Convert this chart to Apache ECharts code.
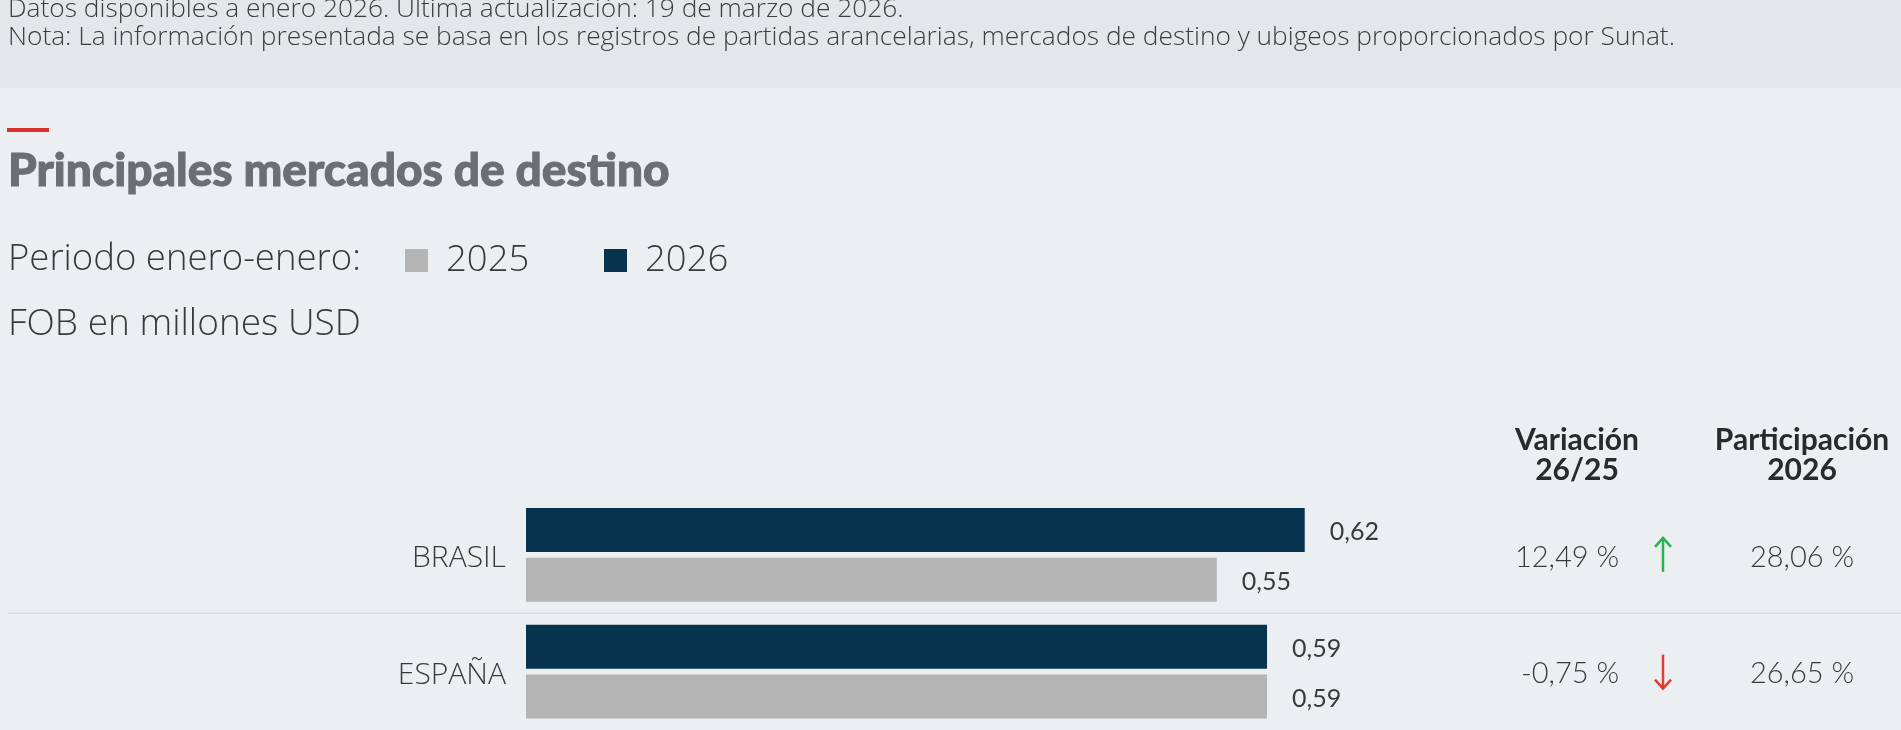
<!DOCTYPE html>
<html>
<head>
<meta charset="utf-8">
<script src="https://cdn.jsdelivr.net/npm/echarts@6/dist/echarts.min.js"></script>
<style>
html,body{margin:0;padding:0;background:#eceff2;}
#chart{width:1901px;height:730px;}
</style>
</head>
<body>
<div id="chart"></div>
<script>
// ---- data ----
const categories = ['BRASIL', 'ESPAÑA'];
const years = ['2025', '2026'];
const values2025 = [0.55, 0.59];
const values2026 = [0.62, 0.59];
const variation = [12.49, -0.75];     // Variación 26/25 (%)
const share2026 = [28.06, 26.65];     // Participación 2026 (%)

const fmt = v => v.toFixed(2).replace('.', ',');
const TXT = '#3a3a3a';
const LIGHT = '"Open Sans"';

const chart = echarts.init(document.getElementById('chart'), null, {renderer: 'canvas'});

const legendBase = {
  padding: 0,
  top: 242,
  icon: 'rect',
  itemWidth: 23,
  itemHeight: 23,
  itemTextGap: 18,
  textStyle: {fontFamily: LIGHT, fontWeight: 300, fontSize: 36.5, color: TXT, padding: [0, 0, 0, 13]}
};

const option = {
  backgroundColor: '#eceff2',
  animation: false,
  legend: [
    Object.assign({data: [years[0]], left: 405}, legendBase),
    Object.assign({data: [years[1]], left: 604}, legendBase)
  ],
  grid: {left: 526, width: 1256, top: 496.5, height: 238, containLabel: false},
  xAxis: {type: 'value', min: 0, max: 1, show: false},
  yAxis: {
    type: 'category',
    data: categories,
    inverse: true,
    axisLine: {show: false},
    axisTick: {show: false},
    splitLine: {show: false},
    axisLabel: {
      margin: 20,
      formatter: '{a|{value}}',
      rich: {a: {fontFamily: LIGHT, fontWeight: 300, fontSize: 30, color: TXT, padding: [8, 0, 0, 0]}}
    }
  },
  series: [
    {
      name: '2026', type: 'bar', data: values2026, barWidth: 44, barGap: '13.6%',
      itemStyle: {color: '#07334e'},
      label: {show: true, position: 'right', distance: 25, offset: [0, 2.5], formatter: p => fmt(p.value),
              fontFamily: 'Lato', fontSize: 25, fontWeight: 400, color: TXT}
    },
    {
      name: '2025', type: 'bar', data: values2025, barWidth: 44, barGap: '13.6%',
      itemStyle: {color: '#b4b4b4'},
      label: {show: true, position: 'right', distance: 25, offset: [0, 2.5], formatter: p => fmt(p.value),
              fontFamily: 'Lato', fontSize: 25, fontWeight: 400, color: TXT}
    },
    {
      type: 'custom',
      clip: false,
      data: categories.map((c, i) => [0, i]),
      renderItem: function (params, api) {
        const i = params.dataIndex;
        const y = api.coord([0, api.value(1)])[1];
        const v = variation[i];
        const up = v >= 0;
        const col = up ? '#2bb24c' : '#e03c31';
        const ax = 1663, half = 17, head = 9;
        const tip = up ? y - half : y + half;
        const back = up ? tip + head : tip - head;
        return {
          type: 'group',
          children: [
            {type: 'text', style: {text: fmt(v) + ' %', x: 1619, y: y + 2.5, align: 'right', verticalAlign: 'middle',
              font: '300 29px Lato', fill: TXT}},
            {type: 'line', shape: {x1: ax, y1: y - half, x2: ax, y2: y + half},
              style: {stroke: col, lineWidth: 2.5}},
            {type: 'polyline', shape: {points: [[ax - 8, back], [ax, tip], [ax + 8, back]]},
              style: {stroke: col, lineWidth: 2.5, fill: null}},
            {type: 'text', style: {text: fmt(share2026[i]) + ' %', x: 1802, y: y + 2.5, align: 'center', verticalAlign: 'middle',
              font: '300 29px Lato', fill: TXT}}
          ]
        };
      }
    }
  ],
  graphic: [
    {type: 'rect', z: -10, shape: {x: 0, y: 0, width: 1901, height: 88}, style: {fill: '#e3e7e9'}},
    {type: 'text', style: {text: 'Datos disponibles a enero 2026. Última actualización: 19 de marzo de 2026.',
      x: 8, y: 10, verticalAlign: 'middle', font: '300 26.3px "Open Sans"', fill: '#3d3d3d'}},
    {type: 'text', style: {text: 'Nota: La información presentada se basa en los registros de partidas arancelarias, mercados de destino y ubigeos proporcionados por Sunat.',
      x: 8, y: 38, verticalAlign: 'middle', font: '300 26.3px "Open Sans"', fill: '#3d3d3d'}},
    {type: 'rect', shape: {x: 7, y: 128, width: 42, height: 4}, style: {fill: '#d8322b'}},
    {type: 'text', style: {text: 'Principales mercados de destino', x: 8, y: 171,
      verticalAlign: 'middle', font: '900 46px "Lato Black", Lato', fill: '#6d6e71',
      stroke: '#6d6e71', lineWidth: 1}},
    {type: 'text', style: {text: 'Periodo enero-enero:', x: 8, y: 260,
      verticalAlign: 'middle', font: '300 36.5px "Open Sans"', fill: TXT}},
    {type: 'text', style: {text: 'FOB en millones USD', x: 8, y: 324,
      verticalAlign: 'middle', font: '300 37px "Open Sans"', fill: TXT}},
    {type: 'text', style: {text: 'Variación\n26/25', x: 1577, y: 425, align: 'center', verticalAlign: 'top',
      font: '700 30px Lato', lineHeight: 30, fill: '#2a2a2a'}},
    {type: 'text', style: {text: 'Participación\n2026', x: 1802, y: 425, align: 'center', verticalAlign: 'top',
      font: '700 30px Lato', lineHeight: 30, fill: '#2a2a2a'}}
  ]
};
chart.setOption(option);

// separator between category rows, placed from the category scale
const y0 = chart.convertToPixel({yAxisIndex: 0}, 0);
const y1 = chart.convertToPixel({yAxisIndex: 0}, 1);
const sepY = (y0 + y1) / 2;
chart.setOption({graphic: option.graphic.concat([
  {type: 'line', z: -5, shape: {x1: 8, y1: sepY, x2: 1901, y2: sepY}, style: {stroke: '#d9dcdf', lineWidth: 1.5}}
])});
</script>
</body>
</html>
